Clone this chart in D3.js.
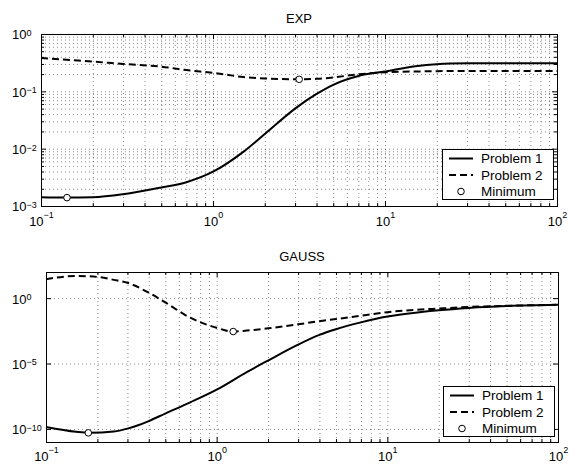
<!DOCTYPE html>
<html>
<head>
<meta charset="utf-8">
<script src="https://cdn.jsdelivr.net/npm/d3@7"></script>
<style>
  body { margin: 0; background: #fff; }
  svg { font-family: "Liberation Sans", Arial, sans-serif; }
  .grid line { stroke: #000; stroke-opacity: 0.45; stroke-dasharray: 1,3; }
  .grid path, .ticks path { display: none; }
  .ticks line { stroke: #000; }
</style>
</head>
<body>
<svg id="chart" width="569" height="464"></svg>
<script>
'use strict';

// ---- data ----
var xTicks = [0.1, 1, 10, 100];
var xTickExp = ['\u22121', '0', '1', '2'];

// EXP panel
var expY1x = [0.1, 0.14, 0.2, 0.3, 0.5, 0.7, 1, 1.5, 2, 3, 4, 5, 7, 10, 15, 20, 30, 50, 100];
var expY1  = [1.42e-3, 1.40e-3, 1.42e-3, 1.6e-3, 2.1e-3, 2.6e-3, 3.96e-3, 8.8e-3, 0.018, 0.05, 0.09, 0.13, 0.185, 0.222, 0.275, 0.298, 0.308, 0.31, 0.31];
var expY2x = [0.1, 0.15, 0.2, 0.3, 0.5, 0.7, 1, 1.5, 2, 3.16, 4, 5, 7, 10, 15, 20, 30, 50, 100];
var expY2  = [0.38, 0.35, 0.33, 0.30, 0.27, 0.235, 0.21, 0.178, 0.168, 0.162, 0.165, 0.175, 0.198, 0.215, 0.222, 0.225, 0.227, 0.227, 0.227];
var expMinX = [0.1416, 3.17];
var expMinY = [1.40e-3, 0.162];
var expYTicks = [1e-3, 1e-2, 1e-1, 1];
var expYTickExp = ['\u22123', '\u22122', '\u22121', '0'];

// GAUSS panel
var gaussY1x = [0.1, 0.15, 0.18, 0.25, 0.3, 0.35, 0.4, 0.5, 0.7, 1, 1.5, 2, 3, 4, 5, 7, 10, 15, 20, 30, 50, 100];
var gaussY1  = [1.4e-10, 6.0e-11, 5.0e-11, 6.3e-11, 1.05e-10, 2.0e-10, 4.0e-10, 1.5e-9, 1.07e-8, 1.0e-7, 2.2e-6, 1.7e-5, 2.8e-4, 1.55e-3, 4.2e-3, 0.014, 0.039, 0.081, 0.12, 0.18, 0.25, 0.31];
var gaussY2x = [0.1, 0.15, 0.2, 0.25, 0.3, 0.4, 0.5, 0.7, 1, 1.25, 1.5, 2, 3, 4, 5, 7, 10, 15, 20, 30, 50, 100];
var gaussY2  = [28, 50, 42, 25, 15, 2.6, 0.47, 0.032, 5.4e-3, 2.8e-3, 3.3e-3, 4.9e-3, 0.01, 0.0174, 0.025, 0.046, 0.085, 0.13, 0.16, 0.21, 0.26, 0.31];
var gaussMinX = [0.177, 1.25];
var gaussMinY = [5.0e-11, 2.8e-3];
var gaussYTicks = [1e-10, 1e-5, 1];
var gaussYTickExp = ['\u221210', '\u22125', '0'];

var legendLabels = ['Problem 1', 'Problem 2', 'Minimum'];

var svg = d3.select('#chart');

function zip(xs, ys) {
  return xs.map(function(d, i) { return { x: d, y: ys[i] }; });
}

function drawPanel(p) {
  var w = p.right - p.left, h = p.bottom - p.top;
  var g = svg.append('g').attr('transform', 'translate(' + p.left + ',' + p.top + ')');

  var x = d3.scaleLog().domain([0.1, 100]).range([0, w]);
  var y = d3.scaleLog().domain(p.yDomain).range([h, 0]);

  var xAll = x.ticks();
  var xMinor = xAll.filter(function(d) { return xTicks.indexOf(d) < 0; });

  // grid
  g.append('g').attr('class', 'grid')
    .attr('transform', 'translate(0,' + h + ')')
    .call(d3.axisBottom(x).tickValues(xAll).tickSize(-h).tickFormat(''));
  g.append('g').attr('class', 'grid')
    .call(d3.axisLeft(y).tickValues(p.yGrid).tickSize(-w).tickFormat(''));

  // inner ticks on all sides
  function ticks(axis, tr) {
    g.append('g').attr('class', 'ticks').attr('transform', tr || null).call(axis);
  }
  ticks(d3.axisBottom(x).tickValues(xTicks).tickSize(-5).tickFormat(''), 'translate(0,' + h + ')');
  ticks(d3.axisBottom(x).tickValues(xMinor).tickSize(-3).tickFormat(''), 'translate(0,' + h + ')');
  ticks(d3.axisTop(x).tickValues(xTicks).tickSize(-5).tickFormat(''));
  ticks(d3.axisTop(x).tickValues(xMinor).tickSize(-3).tickFormat(''));
  ticks(d3.axisLeft(y).tickValues(p.yTicks).tickSize(-5).tickFormat(''));
  ticks(d3.axisRight(y).tickValues(p.yTicks).tickSize(-5).tickFormat(''), 'translate(' + w + ',0)');
  if (p.yMinor) {
    ticks(d3.axisLeft(y).tickValues(p.yMinor).tickSize(-3).tickFormat(''));
    ticks(d3.axisRight(y).tickValues(p.yMinor).tickSize(-3).tickFormat(''), 'translate(' + w + ',0)');
  }

  // tick labels
  var xl = g.append('g').attr('transform', 'translate(0,' + h + ')')
    .call(d3.axisBottom(x).tickValues(xTicks).tickSize(0).tickFormat(''));
  xl.select('.domain').remove();
  xl.selectAll('.tick text').each(function(d, i) {
    var t = d3.select(this).attr('y', p.xLabelY).attr('dy', null)
      .attr('font-size', 13).attr('fill', '#000').attr('font-family', null);
    t.text('10');
    t.append('tspan').attr('dy', -8).attr('font-size', 9).text(xTickExp[i]);
  });
  var yl = g.append('g')
    .call(d3.axisLeft(y).tickValues(p.yTicks).tickSize(0).tickFormat(''));
  yl.select('.domain').remove();
  yl.selectAll('.tick text').each(function(d, i) {
    var t = d3.select(this).attr('x', 12 - p.left).attr('dy', '0.38em')
      .attr('text-anchor', 'start')
      .attr('font-size', 13).attr('fill', '#000').attr('font-family', null);
    t.text('10');
    t.append('tspan').attr('dy', -3.6).attr('font-size', 9).text(p.yTickExp[i]);
  });

  // frame
  g.append('rect').attr('x', 0.5).attr('y', 0.5).attr('width', w).attr('height', h)
    .attr('fill', 'none').attr('stroke', '#000').attr('stroke-width', 1);

  // title
  svg.append('text').attr('x', p.left + w / 2).attr('y', p.titleY)
    .attr('text-anchor', 'middle').attr('font-size', 13).text(p.title);

  // curves
  var line = d3.line()
    .x(function(d) { return x(d.x); })
    .y(function(d) { return y(d.y); })
    .curve(d3.curveMonotoneX);
  g.append('path').datum(zip(p.x1, p.y1))
    .attr('fill', 'none').attr('stroke', '#000').attr('stroke-width', 2).attr('d', line);
  g.append('path').datum(zip(p.x2, p.y2))
    .attr('fill', 'none').attr('stroke', '#000').attr('stroke-width', 2)
    .attr('stroke-dasharray', '7,4').attr('d', line);
  g.selectAll('.minpt').data(zip(p.minX, p.minY)).enter().append('circle')
    .attr('cx', function(d) { return x(d.x); })
    .attr('cy', function(d) { return y(d.y); })
    .attr('r', 3.3).attr('fill', '#fff').attr('stroke', '#000').attr('stroke-width', 1);

  // legend
  var lg = svg.append('g').attr('transform', 'translate(' + p.legX + ',' + p.legY + ')');
  lg.append('rect').attr('x', 0.5).attr('y', 0.5).attr('width', 111).attr('height', 50)
    .attr('fill', '#fff').attr('stroke', '#000').attr('stroke-width', 1);
  var rows = [9.5, 26, 42.5];
  lg.append('line').attr('x1', 7).attr('x2', 31).attr('y1', rows[0]).attr('y2', rows[0])
    .attr('stroke', '#000').attr('stroke-width', 2);
  lg.append('line').attr('x1', 7).attr('x2', 31).attr('y1', rows[1]).attr('y2', rows[1])
    .attr('stroke', '#000').attr('stroke-width', 2).attr('stroke-dasharray', '7,4');
  lg.append('circle').attr('cx', 19).attr('cy', rows[2]).attr('r', 3.3)
    .attr('fill', '#fff').attr('stroke', '#000');
  lg.selectAll('.lt').data(legendLabels).enter().append('text')
    .attr('x', 39).attr('y', function(d, i) { return rows[i]; })
    .attr('dy', '0.36em').attr('font-size', 13.5).text(function(d) { return d; });
}

drawPanel({
  left: 41, right: 557, top: 34, bottom: 206,
  yDomain: [1e-3, 1], yTicks: expYTicks, yTickExp: expYTickExp,
  yGrid: d3.scaleLog().domain([1e-3, 1]).ticks(),
  yMinor: d3.scaleLog().domain([1e-3, 1]).ticks().filter(function(d) { return expYTicks.indexOf(d) < 0; }),
  x1: expY1x, y1: expY1, x2: expY2x, y2: expY2, minX: expMinX, minY: expMinY,
  title: 'EXP', titleY: 23, legX: 442, legY: 149, xLabelY: 20
});

drawPanel({
  left: 46, right: 558, top: 272, bottom: 442,
  yDomain: [1e-11, 1e2], yTicks: gaussYTicks, yTickExp: gaussYTickExp,
  yGrid: gaussYTicks, yMinor: null,
  x1: gaussY1x, y1: gaussY1, x2: gaussY2x, y2: gaussY2, minX: gaussMinX, minY: gaussMinY,
  title: 'GAUSS', titleY: 260.5, legX: 443, legY: 386, xLabelY: 18.5
});
</script>
</body>
</html>
